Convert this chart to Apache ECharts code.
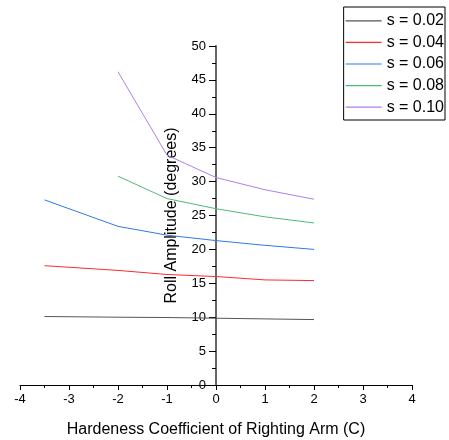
<!DOCTYPE html>
<html><head><meta charset="utf-8">
<script src="https://cdn.jsdelivr.net/npm/echarts@6/dist/echarts.min.js"></script>
<style>html,body{margin:0;padding:0;background:#fff}#c{width:449px;height:440px}</style>
</head><body><div id="c"></div>
<script>
var xLong = [-3.5, -2, -1, 0, 1, 2];
var xShort = [-2, -1, 0, 1, 2];
var s002 = [10.1, 10.0, 9.95, 9.85, 9.75, 9.65];
var s004 = [17.6, 16.9, 16.3, 16.0, 15.5, 15.4];
var s006 = [27.3, 23.4, 22.1, 21.3, 20.6, 20.0];
var s008 = [30.8, 27.5, 26.0, 24.8, 23.9];
var s010 = [46.2, 33.9, 30.6, 28.8, 27.4];
var names = ['s = 0.02', 's = 0.04', 's = 0.06', 's = 0.08', 's = 0.10'];
var colors = ['#555555', '#ff2a2a', '#2f78e6', '#4cba78', '#b07ee8'];

function pairs(xs, ys) { return xs.map(function (x, i) { return [x, ys[i]]; }); }
var seriesData = [pairs(xLong, s002), pairs(xLong, s004), pairs(xLong, s006), pairs(xShort, s008), pairs(xShort, s010)];

var chart = echarts.init(document.getElementById('c'));
chart.setOption({
  animation: false,
  textStyle: { fontFamily: 'Liberation Sans, Arial, sans-serif' },
  grid: { left: 20, right: 37, top: 46, bottom: 55, containLabel: false, outerBoundsMode: 'none' },
  legend: {
    orient: 'vertical', right: 4, top: 7,
    padding: [3, 1, 2, 2], itemGap: 0, itemWidth: 36, itemHeight: 1.2, icon: 'rect',
    borderColor: '#000', borderWidth: 1, backgroundColor: '#fff',
    textStyle: { fontSize: 16, color: '#000', lineHeight: 21.6, padding: [0, 0, 0, 0] },
    data: names
  },
  xAxis: {
    type: 'value', min: -4, max: 4, interval: 1,
    name: 'Hardeness Coefficient of Righting Arm (C)', nameLocation: 'middle', nameGap: 37,
    nameTextStyle: { fontSize: 16, color: '#000' },
    axisLine: { onZero: false, lineStyle: { color: '#000', width: 1 } },
    axisTick: { show: true, length: 5, lineStyle: { color: '#000' } },
    minorTick: { show: true, splitNumber: 2, length: 3, lineStyle: { color: '#000' } },
    axisLabel: { fontSize: 13, color: '#000', margin: 8 },
    splitLine: { show: false }
  },
  yAxis: {
    type: 'value', min: 0, max: 50, interval: 5, offset: -196,
    name: 'Roll Amplitude (degrees)', nameLocation: 'middle', nameGap: 36,
    nameTextStyle: { fontSize: 16, color: '#000' },
    axisLine: { show: true, onZero: false, lineStyle: { color: '#666', width: 2 } },
    axisTick: { show: true, length: 7, lineStyle: { color: '#000' } },
    minorTick: { show: true, splitNumber: 2, length: 4, lineStyle: { color: '#000' } },
    axisLabel: { fontSize: 13, color: '#000', margin: 10 },
    splitLine: { show: false }
  },
  series: seriesData.map(function (d, i) {
    return {
      type: 'line', name: names[i], data: d, symbol: 'none',
      lineStyle: { color: colors[i], width: 1 }, itemStyle: { color: colors[i] }
    };
  })
});
</script></body></html>
